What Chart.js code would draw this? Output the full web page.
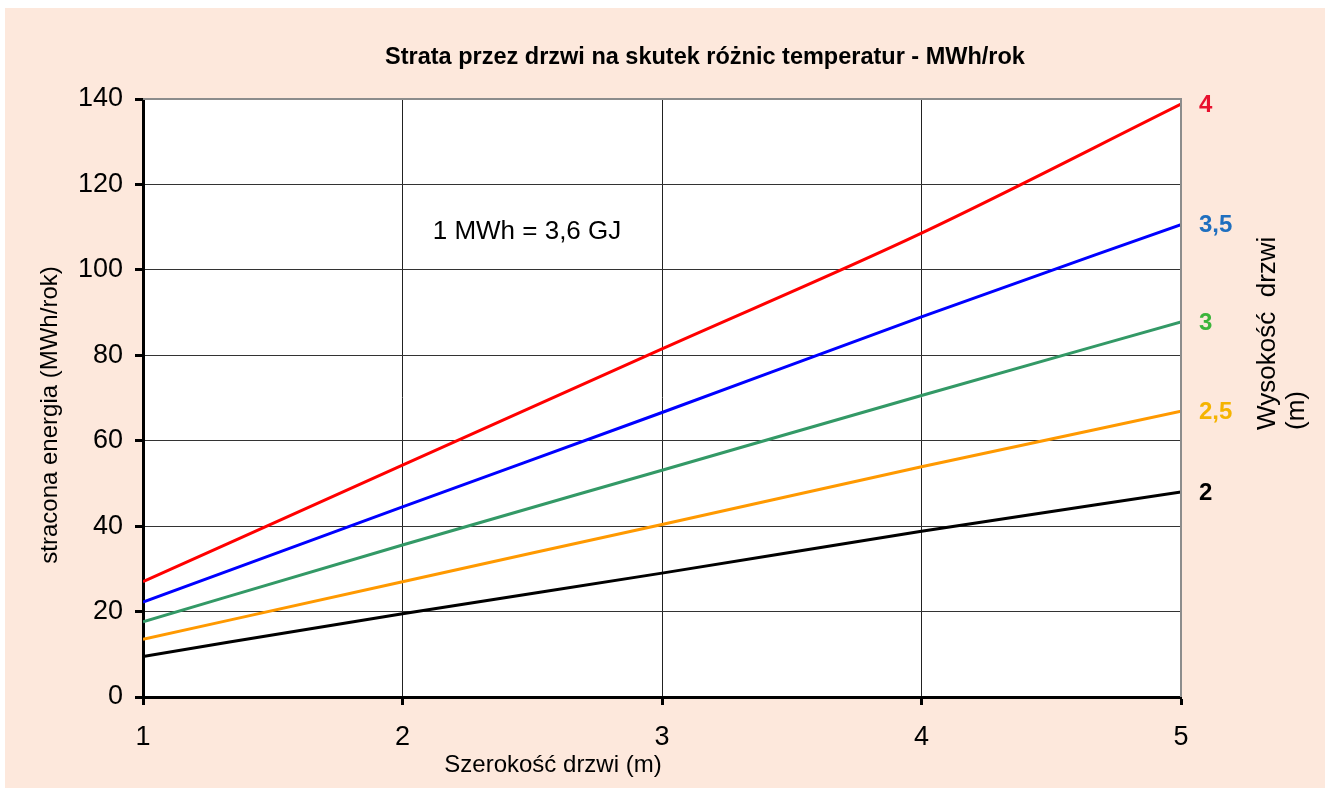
<!DOCTYPE html>
<html>
<head>
<meta charset="utf-8">
<script src="https://cdn.jsdelivr.net/npm/chart.js@4.4.1/dist/chart.umd.min.js"></script>
<style>
  body { margin: 0; background: #ffffff; }
  #wrap { width: 1330px; height: 792px; }
</style>
</head>
<body>
<div id="wrap"><canvas id="line" width="1330" height="792"></canvas></div>
<script>
// door width (m)
const widths = [1, 2, 3, 4, 5];
// lost energy, MWh/year, one list per door height
const heights = ["4", "3,5", "3", "2,5", "2"];
const loss4   = [27.0, 54.3, 81.5, 108.6, 138.8];
const loss35  = [22.2, 44.5, 66.6, 89.0, 110.6];
const loss3   = [17.6, 35.6, 53.1, 70.6, 87.8];
const loss25  = [13.5, 27.0, 40.4, 53.9, 66.9];
const loss2   = [9.5, 19.5, 29.0, 38.8, 48.0];
const yTicks  = [0, 20, 40, 60, 80, 100, 120, 140];

const lineColors  = ['#ff0000', '#0000ff', '#339966', '#ff9900', '#000000'];
const labelColors = ['#e8102e', '#1f6fbf', '#3cb43c', '#f5b400', '#000000'];

function toPoints(arr)
{
    let pts = [];
    for(let i=0; i<widths.length; i++)
    {
        pts.push({x: widths[i], y: arr[i]});
    }
    return pts;
}

const series = [loss4, loss35, loss3, loss25, loss2];
let datasets = [];
for(let i=0; i<series.length; i++)
{
    datasets.push({
        label: heights[i],
        data: toPoints(series[i]),
        borderColor: lineColors[i],
        borderWidth: 3,
        pointRadius: 0,
        cubicInterpolationMode: 'monotone',
        fill: false
    });
}

const FONT = '"Liberation Sans", Arial, sans-serif';

const textPlugin = {
    id: 'texts',
    beforeDraw(chart)
    {
        const c = chart.ctx;
        c.save();
        c.fillStyle = '#ffffff';
        c.fillRect(0, 0, chart.width, chart.height);
        c.fillStyle = '#fde8dc';
        c.fillRect(5, 8, 1320, 780);
        const a = chart.chartArea;
        c.fillStyle = '#ffffff';
        c.fillRect(a.left, a.top, a.right - a.left, a.bottom - a.top);
        c.restore();
    },
    afterDraw(chart)
    {
        const c = chart.ctx;
        const a = chart.chartArea;
        const ys = chart.scales.y;
        c.save();
        // top and right frame
        c.strokeStyle = '#8c8c8c';
        c.lineWidth = 2;
        c.beginPath();
        c.moveTo(a.left, a.top);
        c.lineTo(a.right, a.top);
        c.lineTo(a.right, a.bottom);
        c.stroke();

        c.fillStyle = '#000';
        c.textAlign = 'center';
        c.textBaseline = 'middle';
        c.font = 'bold 23.5px ' + FONT;
        c.fillText('Strata przez drzwi na skutek różnic temperatur - MWh/rok', 705, 58);

        c.font = '26px ' + FONT;
        c.fillText('1 MWh = 3,6 GJ', 527, 232);

        c.font = '24px ' + FONT;
        c.fillText('Szerokość drzwi (m)', 553, 765);

        c.save();
        c.translate(50, 415);
        c.rotate(-Math.PI / 2);
        c.fillText('stracona energia (MWh/rok)', 0, 0);
        c.restore();

        c.save();
        c.font = '26px ' + FONT;
        c.translate(1268, 430);
        c.rotate(-Math.PI / 2);
        c.textAlign = 'left';
        c.fillText('Wysokość  drzwi', 0, 0);
        c.fillText('(m)', 0, 29);
        c.restore();

        // height labels at line ends
        c.font = 'bold 24px ' + FONT;
        c.textAlign = 'left';
        for(let i=0; i<series.length; i++)
        {
            const v = series[i][series[i].length - 1];
            c.fillStyle = labelColors[i];
            c.fillText(heights[i], a.right + 18, ys.getPixelForValue(v) + 1);
        }
        c.restore();
    }
};

const config = {
    type: 'line',
    data: { datasets: datasets },
    options: {
        responsive: false,
        animation: false,
        layout: { padding: { top: 99, right: 149, left: 0, bottom: 0 } },
        plugins: {
            legend: { display: false },
            tooltip: { enabled: false }
        },
        scales: {
            x: {
                type: 'linear',
                min: 1,
                max: 5,
                afterFit: function(scale) { scale.height = 95; },
                ticks: {
                    stepSize: 1,
                    color: '#000',
                    padding: 16,
                    font: { family: FONT, size: 27 }
                },
                grid: {
                    color: '#222',
                    lineWidth: 1,
                    tickLength: 8,
                    tickColor: '#000',
                    tickWidth: 3
                },
                border: { color: '#000', width: 3 }
            },
            y: {
                min: 0,
                max: 140,
                afterFit: function(scale) { scale.width = 143; },
                afterBuildTicks: function(scale)
                {
                    scale.ticks = yTicks.map(function(v) { return {value: v}; });
                },
                ticks: {
                    color: '#000',
                    padding: 12,
                    font: { family: FONT, size: 27 }
                },
                grid: {
                    color: '#333',
                    lineWidth: 1,
                    tickLength: 8,
                    tickColor: '#000',
                    tickWidth: 3
                },
                border: { color: '#000', width: 3 }
            }
        }
    },
    plugins: [textPlugin]
};

let lineChart = new Chart(document.getElementById('line').getContext('2d'), config);
</script>
</body>
</html>
